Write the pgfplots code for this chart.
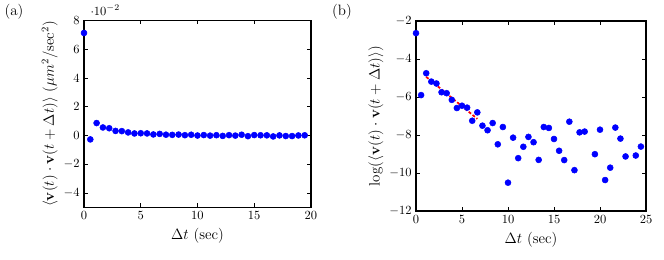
\documentclass[border=0pt]{standalone}
\usepackage{pgfplots}
\pgfplotsset{compat=1.18}
\begin{document}
\begin{tikzpicture}
\useasboundingbox (0,0) rectangle (531.2pt,208pt);
\pgfplotsset{
  every axis/.append style={
    scale only axis,
    anchor=south west,
    axis line style={line width=1.1pt},
    major tick length=3pt,
    every tick/.style={black, line width=0.5pt},
    label style={font=\large},
  },
  dots/.style={only marks, mark=*, mark size=2.4pt, color=blue, mark options={fill=blue, draw=blue}},
}
\begin{axis}[
  at={(67.2pt,42.2pt)},
  width=181.6pt, height=149.3pt,
  xmin=0, xmax=20, ymin=-0.05, ymax=0.08,
  xtick={0,5,10,15,20},
  ytick={-0.04,-0.02,0,0.02,0.04,0.06,0.08},
  scaled y ticks=base 10:2,
  every y tick scale label/.style={at={(rel axis cs:0,1)}, anchor=south west, inner sep=1pt, xshift=4pt, yshift=3pt},
  xlabel={$\Delta t$ (sec)},
  ylabel={$\langle \mathbf{v}(t)\cdot\mathbf{v}(t+\Delta t)\rangle$ $(\mu m^2/\mathrm{sec}^2)$},
  ylabel style={yshift=-2pt},
]
\addplot[dots] coordinates {
(0.0000,0.0714) (0.5556,-0.00274) (1.1111,0.00865) (1.6667,0.00557) (2.2222,0.00504)
(2.7778,0.00318) (3.3333,0.00303) (3.8889,0.00213) (4.4444,0.00139) (5.0000,0.00156)
(5.5556,0.00142) (6.1111,0.000711) (6.6667,0.00110) (7.2222,0.000548) (7.7778,0.000431)
(8.3333,0.000630) (8.8889,0.000205) (9.4444,0.000511) (10.0000,-0.0000273) (10.5556,0.000292)
(11.1111,-0.0000993) (11.6667,0.000181) (12.2222,-0.000304) (12.7778,0.000229) (13.3333,-0.0000907)
(13.8889,0.000511) (14.4444,-0.000486) (15.0000,0.000272) (15.5556,0.000146) (16.1111,0.0000898)
(16.6667,-0.000676) (17.2222,0.0000527) (17.7778,-0.000386) (18.3333,-0.000402) (18.8889,0.0)
(19.4444,0.000122)
};
\end{axis}
\begin{axis}[
  at={(332.8pt,39.2pt)},
  width=184pt, height=152pt,
  xmin=0, xmax=25, ymin=-12, ymax=-2,
  xtick={0,5,10,15,20,25},
  ytick={-12,-10,-8,-6,-4,-2},
  xlabel={$\Delta t$ (sec)},
  ylabel={$\log(\langle \mathbf{v}(t)\cdot\mathbf{v}(t+\Delta t)\rangle)$},
  ylabel style={yshift=-2pt},
]
\addplot[dots] coordinates {
(0.0000,-2.64) (0.5556,-5.90) (1.1111,-4.75) (1.6667,-5.19) (2.2222,-5.29)
(2.7778,-5.75) (3.3333,-5.80) (3.8889,-6.15) (4.4444,-6.58) (5.0000,-6.46)
(5.5556,-6.56) (6.1111,-7.25) (6.6667,-6.81) (7.2222,-7.51) (7.7778,-7.75)
(8.3333,-7.37) (8.8889,-8.49) (9.4444,-7.58) (10.0000,-10.51) (10.5556,-8.14)
(11.1111,-9.22) (11.6667,-8.62) (12.2222,-8.10) (12.7778,-8.38) (13.3333,-9.31)
(13.8889,-7.58) (14.4444,-7.63) (15.0000,-8.21) (15.5556,-8.83) (16.1111,-9.32)
(16.6667,-7.30) (17.2222,-9.85) (17.7778,-7.86) (18.3333,-7.82)
(19.4444,-9.01) (20.0000,-7.72) (20.5556,-10.37) (21.1111,-9.72) (21.6667,-7.61)
(22.2222,-8.19) (22.7778,-9.13) (23.8889,-9.08) (24.4444,-8.61)
};
\addplot[red, line width=1.4pt, dash pattern=on 2.4pt off 1.6pt] coordinates {(1.1111,-4.94) (6.6667,-7.15)};
\end{axis}
\node[font=\large] at (11.2pt,198.4pt) {(a)};
\node[font=\large] at (273.6pt,198.4pt) {(b)};
\end{tikzpicture}
\end{document}
